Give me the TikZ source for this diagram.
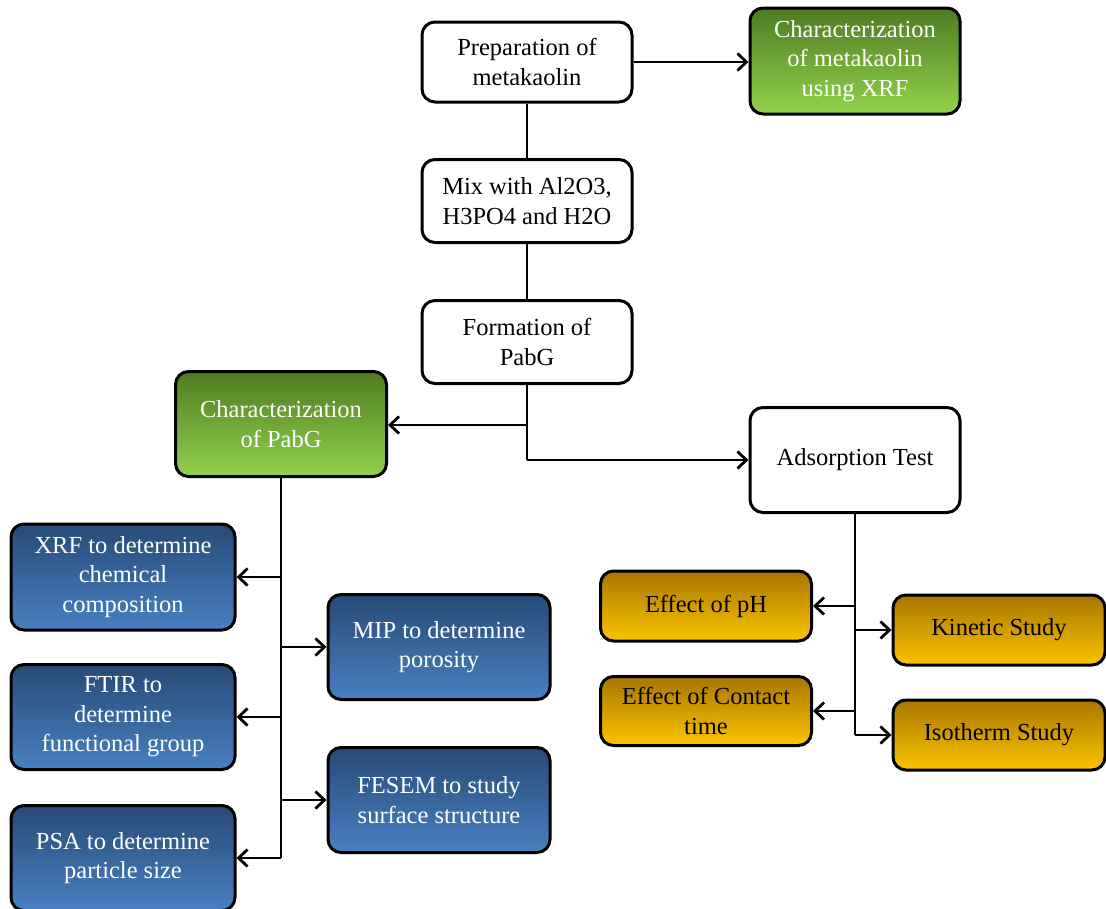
\documentclass[tikz,border=0pt]{standalone}
\usepackage{fontspec}
\setmainfont{Liberation Serif}
\usetikzlibrary{arrows.meta}
\definecolor{gtop}{RGB}{78,124,34}
\definecolor{gbot}{RGB}{146,210,76}
\definecolor{btop}{RGB}{40,74,118}
\definecolor{bbot}{RGB}{72,128,194}
\definecolor{otop}{RGB}{168,118,0}
\definecolor{obot}{RGB}{252,196,0}
\tikzset{
  box/.style={draw=black, line width=3pt, rounded corners=13pt, align=center,
    inner sep=0pt, font=\fontsize{24.5}{29.5}\selectfont},
  plain/.style={box, fill=white, text=black},
  green/.style={box, top color=gtop, bottom color=gbot, text=white},
  blue/.style={box, top color=btop, bottom color=bbot, text=white},
  gold/.style={box, top color=otop, bottom color=obot, text=black},
  conn/.style={line width=2.8pt},
  arr/.style={conn, -{Straight Barb[length=9pt,width=17pt,line width=2.8pt]}},
}
\begin{document}
\begin{tikzpicture}[x=1pt,y=-1pt]
\useasboundingbox (0,0) rectangle (1106,908);
\node[plain, minimum width=210pt, minimum height=80pt] (prep) at (527,62) {Preparation of\\metakaolin};
\node[green, minimum width=210pt, minimum height=106pt] (cmk) at (855,61) {Characterization\\of metakaolin\\using XRF};
\node[plain, minimum width=210pt, minimum height=83pt] (mix) at (527,201) {Mix with Al2O3,\\H3PO4 and H2O};
\node[plain, minimum width=210pt, minimum height=83pt] (form) at (527,342) {Formation of\\PabG};
\node[green, minimum width=211pt, minimum height=105pt] (cp) at (281,424) {Characterization\\of PabG};
\node[plain, minimum width=210pt, minimum height=105pt] (ads) at (855,460) {Adsorption Test};
\node[blue, minimum width=224pt, minimum height=106pt] (xrf) at (123,577) {XRF to determine\\chemical\\composition};
\node[blue, minimum width=224pt, minimum height=105pt] (ftir) at (123,717) {FTIR to\\determine\\functional group};
\node[blue, minimum width=224pt, minimum height=105pt] (psa) at (123,858) {PSA to determine\\particle size};
\node[blue, minimum width=222pt, minimum height=105pt] (mip) at (439,647) {MIP to determine\\porosity};
\node[blue, minimum width=222pt, minimum height=105pt] (fesem) at (439,800) {FESEM to study\\surface structure};
\node[gold, minimum width=211pt, minimum height=70pt] (ph) at (706,606) {Effect of pH};
\node[gold, minimum width=211pt, minimum height=69pt] (ct) at (706,711) {Effect of Contact\\time};
\node[gold, minimum width=212pt, minimum height=70pt] (kin) at (999,630) {Kinetic Study};
\node[gold, minimum width=212pt, minimum height=70pt] (iso) at (999,735) {Isotherm Study};

\draw[arr] (prep.east) -- (cmk.west |- prep.east);
\draw[conn] (prep.south) -- (mix.north);
\draw[conn] (mix.south) -- (form.north);
\coordinate (f1) at (527,425);
\coordinate (f2) at (527,460);
\draw[conn] (form.south) -- (f2);
\draw[arr] (f2) -- (ads.west);
\draw[arr] (f1) -- (cp.east |- f1);

\coordinate (cb) at (281,858);
\draw[conn] (cp.south) -- (cb);
\draw[arr] (281,577) -- (xrf.east);
\draw[arr] (281,717) -- (ftir.east);
\draw[arr] (cb) -- (psa.east);
\draw[arr] (281,647) -- (mip.west);
\draw[arr] (281,800) -- (fesem.west);

\coordinate (ab) at (855,735);
\draw[conn] (ads.south) -- (ab);
\draw[arr] (855,606) -- (ph.east);
\draw[arr] (855,711) -- (ct.east);
\draw[arr] (855,630) -- (kin.west);
\draw[arr] (ab) -- (iso.west);
\end{tikzpicture}
\end{document}
